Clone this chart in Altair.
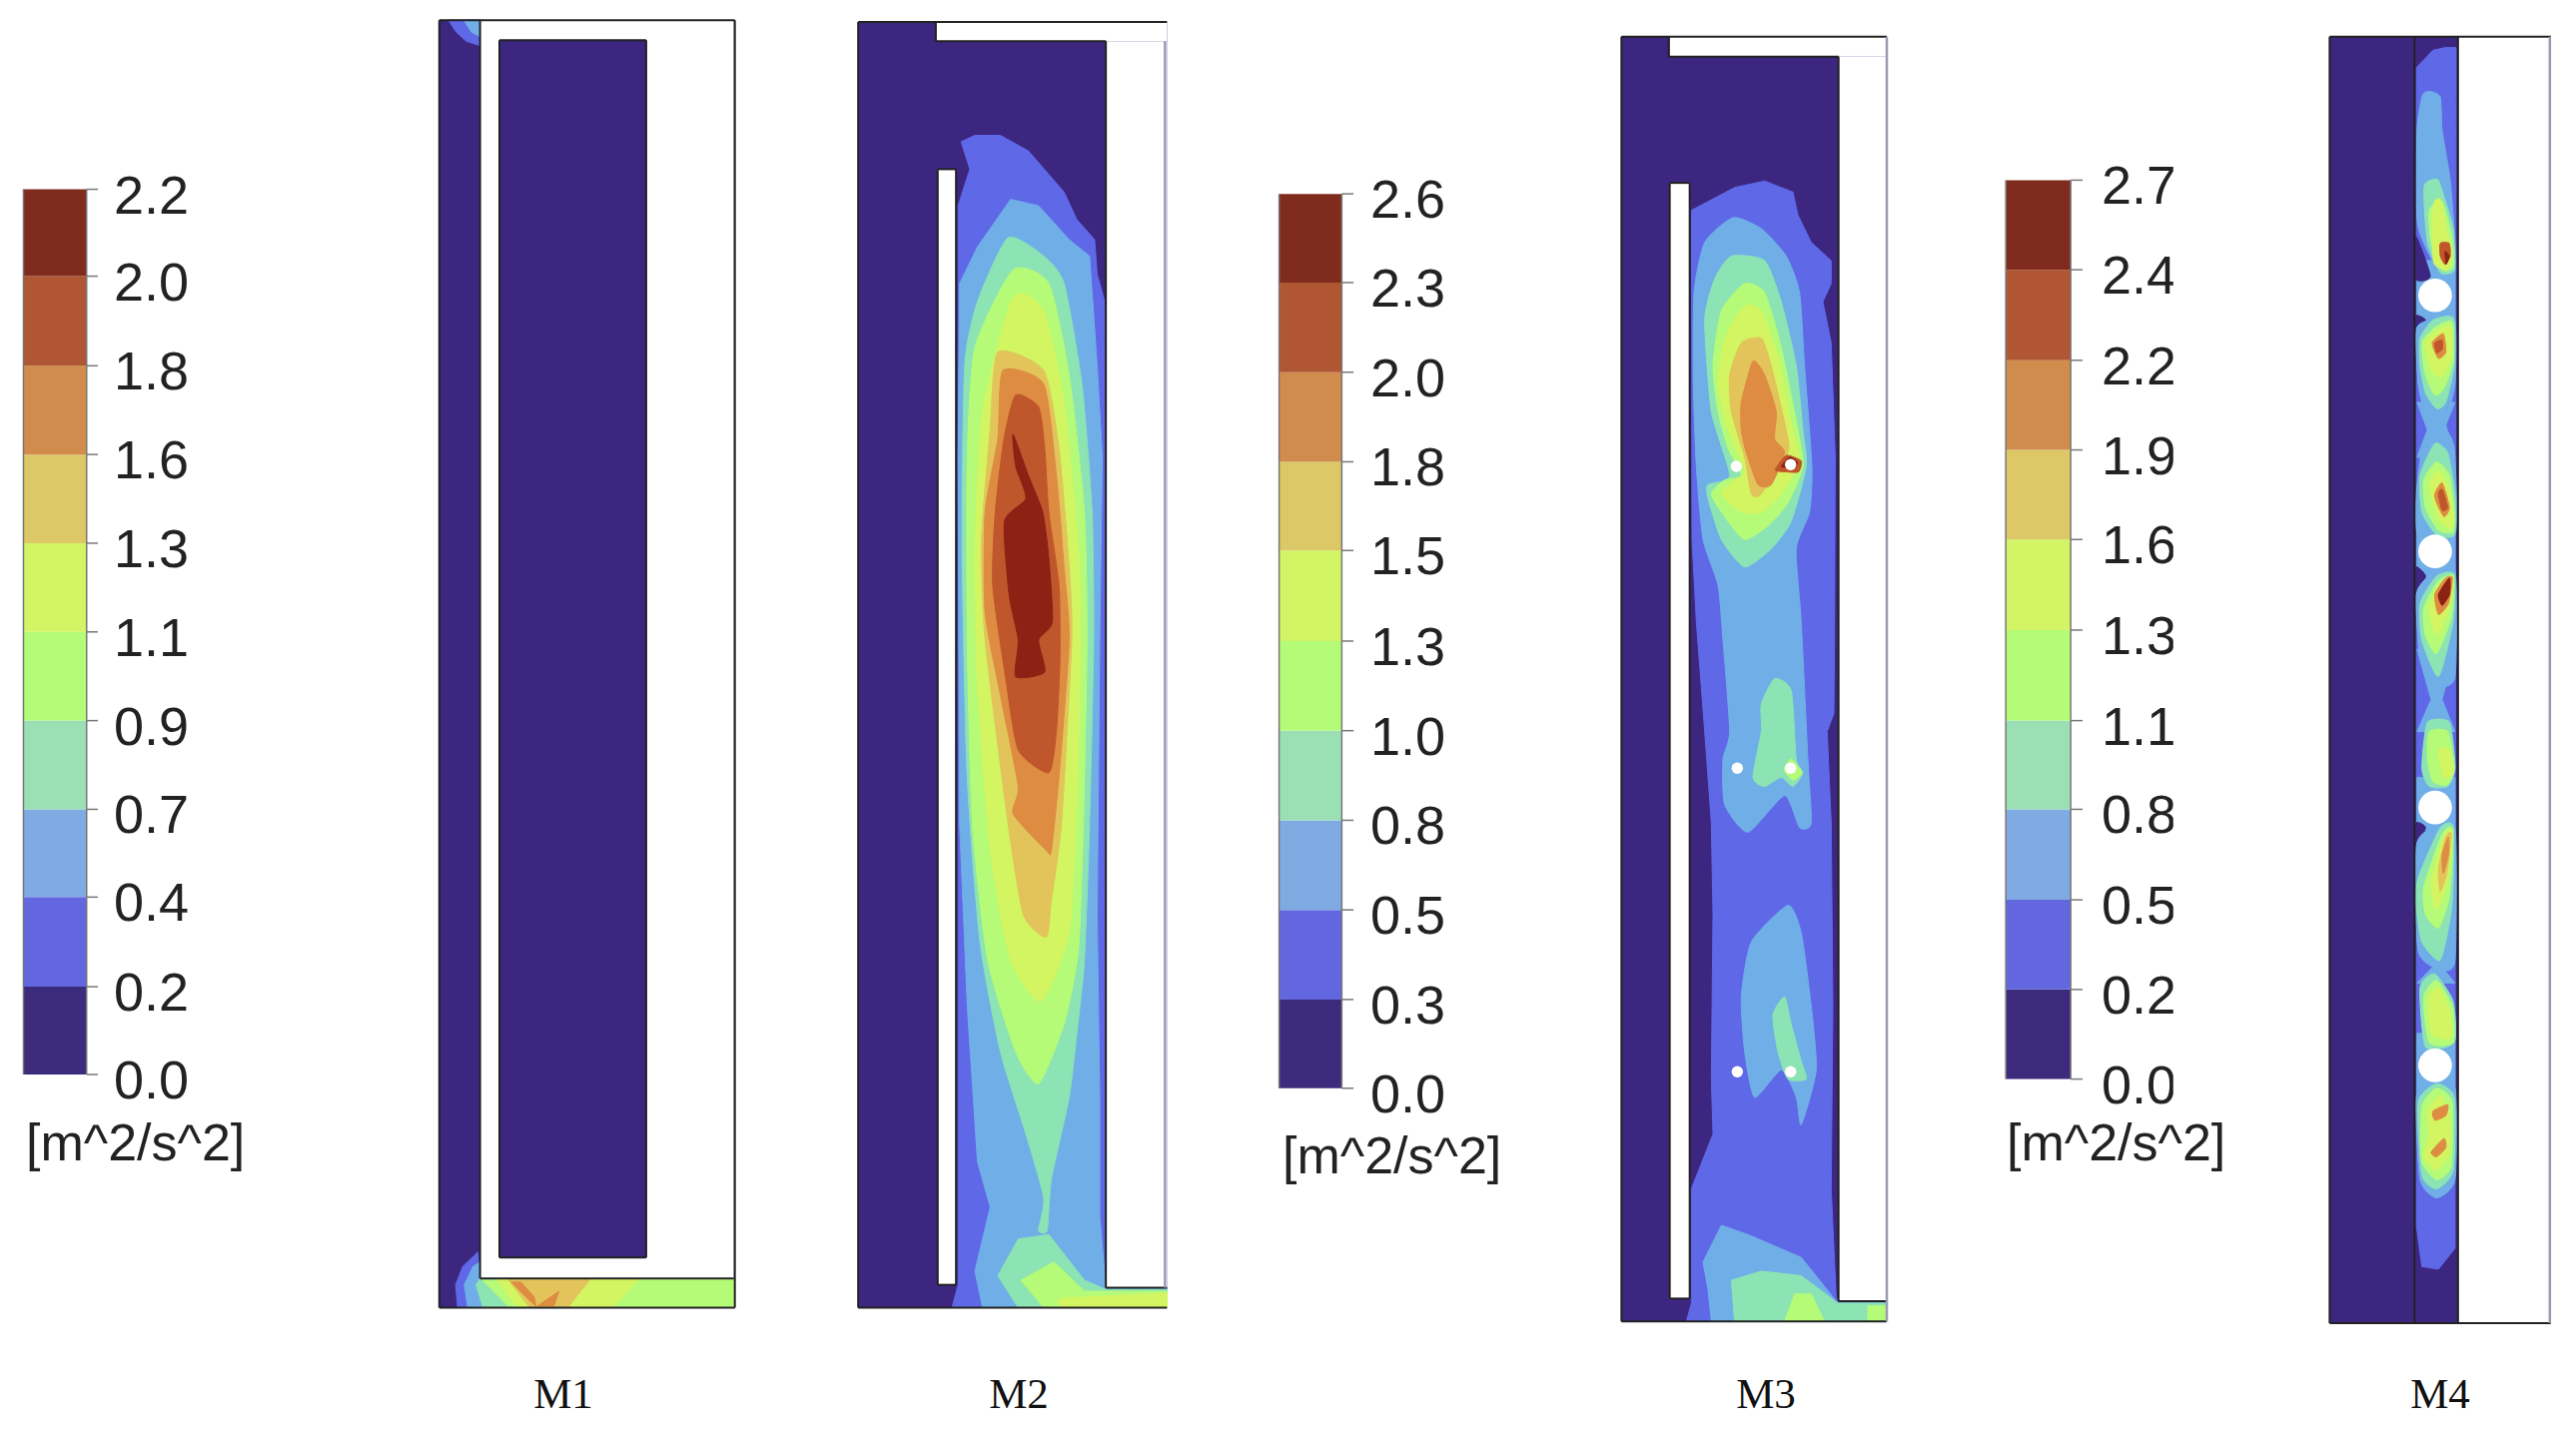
import altair as alt
import pandas as pd

W, H = 2555, 1410
FY = 1.092
CROPS = {"a": (0, 1.96), "b": (800, 1.96), "c": (1550, 3.0), "d": (2000, 2.708)}

DARK, BLUE, LBLUE, TEAL, GREEN, LIME, SAND, ORANGE, RUST, DEEP = (
    "#3d2680", "#5f68e6", "#70aee8", "#8ce3b4", "#b5fb78",
    "#d3f562", "#e2c45a", "#dd8c42", "#c0562c", "#8c2114")
BAND_COLORS = ["#3c2a7c", "#6367df", "#80abe2", "#9be0b5", "#b4fb78",
               "#d2f465", "#dcc866", "#d08c4d", "#b05632", "#7f2c1f"]

TICKS_1 = ["0.0", "0.2", "0.4", "0.7", "0.9", "1.1", "1.3", "1.6", "1.8", "2.0", "2.2"]
TICKS_2 = ["0.0", "0.3", "0.5", "0.8", "1.0", "1.3", "1.5", "1.8", "2.0", "2.3", "2.6"]
TICKS_3 = ["0.0", "0.2", "0.5", "0.8", "1.1", "1.3", "1.6", "1.9", "2.2", "2.4", "2.7"]
BOUNDS_1 = [1175, 1079, 981, 885, 788, 691, 594, 497, 400, 302, 207]
BOUNDS_2 = [1190, 1093, 995, 897, 799, 701, 602, 505, 407, 309, 212]
BOUNDS_3 = [1180, 1082, 984, 885, 788, 689, 590, 492, 394, 295, 197]

M1_CONTOURS = [
    (BLUE, [(880,22),(942,22),(942,50),(915,45),(895,35)]),
    (LBLUE, [(910,22),(942,22),(942,40),(925,35)]),
    (BLUE, [(898,1430),(894,1405),(908,1385),(938,1369),(942,1398),(1440,1398),(1440,1430)]),
    (LBLUE, [(918,1430),(911,1405),(928,1385),(942,1380),(950,1398),(1440,1398),(1440,1430)]),
    (TEAL, [(948,1430),(934,1405),(942,1398),(1440,1398),(1440,1430)]),
    (GREEN, [(1000,1430),(947,1400),(1440,1398),(1440,1430)]),
    (LIME, [(1016,1430),(973,1398),(1255,1398),(1202,1430)]),
    (SAND, [(1039,1430),(996,1398),(1159,1398),(1114,1430)]),
    (ORANGE, [(1003,1402),(1022,1402),(1048,1418),(1052,1428),(1039,1422)]),
    (ORANGE, [(1055,1428),(1097,1412),(1087,1428)]),
]
M2_CONTOURS = [
    (BLUE, [(345,148),(395,148),(450,165),(520,210),(545,240),(580,262),(585,300),(600,330),(602,1408),(722,1408),(722,1430),(300,1430),(312,1405),(312,225),(335,185),(318,155)]),
    (LBLUE, [(415,218),(470,225),(530,262),(570,280),(585,400),(595,500),(590,700),(585,1000),(590,1200),(590,1330),(600,1395),(602,1408),(722,1408),(722,1430),(360,1430),(345,1390),(375,1320),(350,1270),(330,1100),(315,900),(312,500),(315,310),(350,270)]),
    (TEAL, [(410,260),(480,280),(520,310),(555,420),(575,560),(578,700),(570,900),(560,1050),(545,1130),(530,1200),(495,1290),(487,1345),(470,1345),(480,1310),(445,1240),(395,1150),(355,1030),(330,850),(320,600),(325,400),(350,330)]),
    (TEAL, [(390,1395),(430,1355),(490,1350),(560,1400),(602,1410),(722,1410),(722,1430),(430,1430)]),
    (GREEN, [(420,295),(490,310),(530,410),(560,560),(565,700),(558,900),(548,1040),(520,1120),(470,1185),(425,1150),(370,1050),(340,900),(330,700),(330,500),(345,380)]),
    (GREEN, [(435,1400),(500,1380),(560,1412),(722,1412),(722,1430),(480,1430)]),
    (LIME, [(420,325),(480,340),(520,440),(548,600),(552,700),(545,880),(530,1020),(475,1095),(415,1050),(375,930),(350,750),(345,600),(360,450)]),
    (LIME, [(510,1420),(722,1414),(722,1430),(510,1430)]),
    (SAND, [(390,385),(480,405),(510,490),(530,620),(535,700),(515,900),(495,985),(485,1025),(440,1000),(410,900),(365,700),(358,590),(375,470)]),
    (ORANGE, [(400,405),(480,420),(505,520),(520,620),(530,700),(510,850),(495,930),(485,930),(420,890),(430,860),(395,760),(365,670),(365,560),(390,480)]),
    (RUST, [(425,432),(470,445),(482,490),(490,560),(510,640),(512,720),(505,800),(490,845),(430,820),(405,740),(380,640),(385,560),(402,480)]),
    (DEEP, [(420,475),(450,520),(478,560),(490,610),(497,680),(470,700),(482,735),(425,740),(430,700),(412,650),(403,570),(445,545),(425,510)]),
]
M3_CONTOURS = [
    (BLUE, [(430,230),(560,205),(650,198),(735,210),(750,235),(790,265),(850,285),(850,310),(825,330),(850,375),(862,500),(860,700),(858,780),(838,800),(850,900),(855,1100),(850,1300),(865,1420),(1015,1425),(1015,1445),(415,1445),(430,1425),(430,1300),(495,1240),(490,1180),(495,1000),(490,900),(470,800),(445,680),(432,590)]),
    (LBLUE, [(438,320),(470,265),(555,238),(640,250),(715,280),(755,320),(770,400),(792,510),(785,560),(745,600),(760,680),(780,830),(790,900),(755,905),(710,870),(600,910),(530,880),(525,830),(545,800),(525,700),(510,640),(465,590),(445,510),(436,420)]),
    (TEAL, [(470,350),(500,305),(550,280),(650,285),(700,330),(745,400),(765,470),(775,510),(730,570),(670,600),(590,620),(520,590),(480,545),(480,530),(545,520),(490,450)]),
    (GREEN, [(495,400),(520,340),(590,310),(650,320),(700,380),(750,470),(765,510),(720,550),(660,575),(590,590),(530,565),(490,540),(530,525),(580,520),(540,490),(510,450)]),
    (LIME, [(510,420),(530,370),(590,335),(640,340),(690,390),(735,470),(755,505),(700,540),(640,560),(580,560),(520,540),(560,525),(590,515),(540,470)]),
    (SAND, [(545,410),(580,375),(640,370),(670,400),(715,470),(720,495),(640,540),(610,540),(590,500),(550,450)]),
    (ORANGE, [(580,440),(615,395),(650,410),(685,450),(680,480),(710,495),(670,530),(630,530),(595,495),(580,470)]),
    (RUST, [(682,514),(715,498),(760,504),(752,516),(715,516)]),
    (DEEP, [(700,510),(725,500),(748,505),(742,511),(715,511)]),
    (TEAL, [(640,770),(680,742),(730,755),(745,830),(765,845),(735,860),(700,850),(650,860),(615,850),(640,800)]),
    (GREEN, [(708,842),(730,830),(762,845),(735,853)]),
    (LBLUE, [(580,1090),(610,1030),(720,990),(760,1020),(790,1100),(805,1170),(760,1230),(745,1200),(700,1170),(620,1200),(590,1150)]),
    (TEAL, [(675,1110),(710,1090),(730,1120),(760,1160),(775,1180),(720,1180),(690,1150)]),
    (LBLUE, [(465,1380),(520,1340),(600,1350),(760,1375),(870,1425),(1015,1425),(1015,1445),(490,1445),(480,1410)]),
    (TEAL, [(550,1400),(640,1390),(760,1395),(870,1425),(1015,1425),(1015,1445),(560,1445)]),
    (GREEN, [(710,1445),(740,1415),(790,1415),(830,1445)]),
    (GREEN, [(960,1428),(1015,1428),(1015,1445),(960,1445)]),
]
M4_LINKS = [
    [(1137,285),(1240,285),(1240,365),(1137,365)],
    [(1137,440),(1240,440),(1215,465),(1240,500),(1137,500),(1165,470)],
    [(1137,570),(1240,570),(1240,650),(1137,650)],
    [(1137,710),(1240,710),(1205,765),(1240,800),(1137,800),(1175,765)],
    [(1137,850),(1240,850),(1240,930),(1137,930)],
    [(1137,1030),(1240,1030),(1200,1055),(1240,1075),(1137,1075),(1185,1055)],
    [(1137,1130),(1240,1130),(1240,1210),(1137,1210)],
]
M4_CONTOURS = [
    (BLUE, [(1135,74),(1180,55),(1214,52),(1243,52),(1240,1365),(1195,1388),(1150,1385),(1135,1340)]),
    (LBLUE, [(1151,105),(1169,100),(1200,106),(1205,142),(1227,197),(1240,266),(1238,300),(1200,300),(1160,270),(1137,240),(1137,142)]),
    (LBLUE, M4_LINKS[0]), (LBLUE, M4_LINKS[1]), (LBLUE, M4_LINKS[2]), (LBLUE, M4_LINKS[3]),
    (LBLUE, M4_LINKS[4]), (LBLUE, M4_LINKS[5]), (LBLUE, M4_LINKS[6]),
    (DARK, [(1133,258),(1173,302),(1133,305)]),
    (DARK, [(1133,345),(1160,350),(1133,365)]),
    (DARK, [(1133,620),(1160,630),(1133,650)]),
    (DARK, [(1133,900),(1160,905),(1133,930)]),
    (TEAL, [(1156,204),(1192,196),(1210,215),(1235,250),(1238,295),(1200,298),(1165,265)]),
    (GREEN, [(1170,230),(1205,220),(1232,260),(1235,292),(1205,295),(1175,265)]),
    (LIME, [(1183,222),(1200,218),(1218,251),(1232,280),(1218,295),(1183,288),(1178,251)]),
    (RUST, [(1200,266),(1224,266),(1227,280),(1213,289),(1200,280)]),
    (DEEP, [(1213,275),(1224,280),(1216,289)]),
    (LBLUE, [(1135,360),(1170,350),(1238,345),(1240,420),(1215,465),(1238,490),(1240,585),(1140,585),(1135,540),(1150,490),(1165,470),(1140,420)]),
    (TEAL, [(1145,370),(1180,350),(1236,348),(1238,400),(1215,440),(1190,447),(1160,430),(1145,400)]),
    (GREEN, [(1150,375),(1185,358),(1232,352),(1235,395),(1210,425),(1185,432),(1160,410)]),
    (LIME, [(1160,375),(1190,362),(1228,357),(1230,390),(1205,412),(1175,405)]),
    (ORANGE, [(1178,375),(1208,365),(1215,385),(1195,392)]),
    (RUST, [(1185,375),(1205,372),(1205,382),(1190,386)]),
    (TEAL, [(1145,520),(1185,485),(1220,495),(1240,540),(1238,585),(1190,585),(1150,560)]),
    (GREEN, [(1155,525),(1190,505),(1225,520),(1238,560),(1235,582),(1195,580),(1160,555)]),
    (LIME, [(1170,530),(1195,515),(1225,535),(1236,565),(1228,578),(1195,568)]),
    (ORANGE, [(1185,540),(1205,528),(1225,555),(1210,565),(1190,550)]),
    (RUST, [(1195,540),(1205,535),(1220,555),(1205,558)]),
    (LBLUE, [(1135,650),(1170,630),(1240,625),(1240,740),(1190,750),(1145,720)]),
    (TEAL, [(1145,660),(1190,630),(1238,628),(1235,680),(1195,740),(1150,700)]),
    (GREEN, [(1155,665),(1195,635),(1236,630),(1230,675),(1190,715),(1160,695)]),
    (LIME, [(1170,665),(1195,640),(1235,632),(1225,665),(1190,695)]),
    (ORANGE, [(1185,650),(1215,632),(1233,632),(1222,660),(1195,672)]),
    (DEEP, [(1195,650),(1225,632),(1225,650),(1205,662)]),
    (TEAL, [(1165,790),(1225,790),(1240,840),(1220,860),(1170,860),(1150,840)]),
    (GREEN, [(1170,800),(1220,800),(1238,840),(1220,858),(1180,855),(1165,830)]),
    (LIME, [(1195,820),(1225,820),(1235,845),(1210,850)]),
    (LBLUE, [(1135,925),(1180,905),(1240,905),(1240,1050),(1200,1060),(1140,1040)]),
    (TEAL, [(1140,960),(1200,905),(1236,905),(1232,990),(1200,1050),(1150,1030),(1135,990)]),
    (GREEN, [(1155,970),(1205,912),(1234,908),(1225,980),(1195,1015),(1160,1000)]),
    (LIME, [(1175,965),(1210,915),(1232,908),(1222,960),(1190,995)]),
    (SAND, [(1195,950),(1215,915),(1230,912),(1218,955),(1200,975)]),
    (ORANGE, [(1205,935),(1222,915),(1222,935),(1208,955)]),
    (TEAL, [(1145,1080),(1185,1065),(1235,1095),(1238,1140),(1160,1145)]),
    (GREEN, [(1155,1090),(1190,1072),(1232,1100),(1235,1140),(1170,1140)]),
    (LIME, [(1170,1090),(1195,1080),(1225,1105),(1228,1135),(1175,1130)]),
    (LBLUE, [(1135,1200),(1180,1185),(1240,1190),(1240,1290),(1190,1310),(1145,1290)]),
    (TEAL, [(1140,1205),(1190,1185),(1238,1200),(1235,1280),(1190,1300),(1150,1285)]),
    (GREEN, [(1150,1210),(1190,1190),(1232,1205),(1230,1275),(1190,1290),(1150,1270)]),
    (LIME, [(1165,1215),(1200,1198),(1225,1220),(1225,1260),(1190,1280),(1155,1265),(1170,1240)]),
    (ORANGE, [(1180,1215),(1220,1208),(1215,1220),(1185,1225)]),
    (ORANGE, [(1175,1260),(1210,1245),(1215,1255),(1190,1265)]),
]

PANELS = [("a", 862, 1442, 22, 1430), ("b", 116, 722, 24, 1430),
          ("c", 220, 1017, 40, 1445), ("d", 900, 1500, 40, 1447)]
WHITES = [("a", 942, 1440, 22, 1398), ("b", 270, 722, 24, 45), ("b", 602, 722, 45, 1408),
          ("b", 272, 308, 185, 1405), ("c", 365, 1015, 40, 62), ("c", 872, 1015, 62, 1423),
          ("c", 365, 425, 200, 1420), ("d", 1248, 1497, 40, 1447)]
INNER = [("a", 980, 1268, 44, 1375)]
SEGMENTS = [
    ("a",862,22,1442,22),("a",862,22,862,1430),("a",862,1430,1442,1430),("a",1442,22,1442,1430),
    ("a",942,22,942,1398),("a",942,1398,1440,1398),
    ("a",980,44,1268,44),("a",980,44,980,1375),("a",1268,44,1268,1375),("a",980,1375,1268,1375),
    ("b",116,24,722,24),("b",116,24,116,1430),("b",116,1430,722,1430),("b",268,24,268,45),
    ("b",268,45,602,45),("b",602,45,602,1408),("b",602,1408,722,1408),
    ("b",272,185,308,185),("b",272,185,272,1405),("b",308,185,308,1405),("b",272,1405,308,1405),
    ("c",220,40,1017,40),("c",220,40,220,1445),("c",220,1445,1017,1445),
    ("c",362,40,362,62),("c",362,62,872,62),("c",872,62,872,1423),("c",872,1423,1020,1423),
    ("c",365,200,425,200),("c",365,200,365,1420),("c",425,200,425,1420),("c",365,1420,425,1420),
    ("d",900,40,1500,40),("d",900,40,900,1447),("d",900,1447,1500,1447),
    ("d",1130,40,1130,1447),("d",1248,40,1248,1447),
]
PALE_SEGMENTS = [("b",718,45,718,1408),("c",1017,40,1017,1445),("d",1497,40,1497,1447)]
HOLES_SMALL = [("c",565,510),("c",728,508),("c",568,840),("c",728,840),("c",568,1172),("c",728,1172)]
HOLES_BIG = [("d",1186,323),("d",1186,603),("d",1186,883),("d",1186,1165)]

PANEL_LABELS = [("M1", 564), ("M2", 1020), ("M3", 1768), ("M4", 2443)]
UNIT = "[m^2/s^2]"
UNIT_SPOTS = [(26, 1146), (1284, 1159), (2009, 1146)]


def px(crop, x):
    off, k = CROPS[crop]
    return off + x / k


def py(y):
    return y / FY


X = alt.X("x:Q", scale=alt.Scale(domain=[8, 8 + W]), axis=None)
Y = alt.Y("y:Q", scale=alt.Scale(domain=[8 + H, 8]), axis=None)
layers = []


def rects(rows, color):
    df = pd.DataFrame([dict(x=px(c, a), x2=px(c, b), y=py(d), y2=py(e)) for c, a, b, d, e in rows])
    layers.append(alt.Chart(df).mark_rect(color=color).encode(X, Y, x2="x2:Q", y2="y2:Q"))


def poly(crop, color, pts):
    linear = (crop == "a" or max(b for _, b in pts) >= 1400 or (crop == "d" and color == BLUE)
              or any(pts is link for link in M4_LINKS))
    df = pd.DataFrame([dict(x=px(crop, a), y=py(b), i=i) for i, (a, b) in enumerate(pts)])
    if linear:
        mark = alt.Chart(df).mark_line(fill=color, stroke=color, strokeWidth=1, interpolate="linear-closed")
    else:
        mark = alt.Chart(df).mark_line(fill=color, stroke=color, strokeWidth=1,
                                       interpolate="cardinal-closed", tension=0.4)
    layers.append(mark.encode(X, Y, order="i:Q"))


rects(PANELS, DARK)
for crop, contours in (("a", M1_CONTOURS), ("b", M2_CONTOURS), ("c", M3_CONTOURS), ("d", M4_CONTOURS)):
    for color, pts in contours:
        poly(crop, color, pts)
rects(WHITES, "#ffffff")
rects(INNER, DARK)

seg = pd.DataFrame([dict(x=px(c, a), y=py(b), x2=px(c, d), y2=py(e)) for c, a, b, d, e in SEGMENTS])
layers.append(alt.Chart(seg).mark_rule(color="#222222", strokeWidth=2).encode(X, Y, x2="x2:Q", y2="y2:Q"))
pale = pd.DataFrame([dict(x=px(c, a), y=py(b), x2=px(c, d), y2=py(e)) for c, a, b, d, e in PALE_SEGMENTS])
layers.append(alt.Chart(pale).mark_rule(color="#9a9ab4", strokeWidth=2.5).encode(X, Y, x2="x2:Q", y2="y2:Q"))

for holes, size in ((HOLES_SMALL, 130), (HOLES_BIG, 1134)):
    df = pd.DataFrame([dict(x=px(c, a), y=py(b)) for c, a, b in holes])
    layers.append(alt.Chart(df).mark_point(filled=True, shape="circle", size=size, color="#ffffff", opacity=1).encode(X, Y))


def colorbar(crop, x0, x1, xt, xr, bounds, ticks, dy):
    rows = []
    for i in range(10):
        rows.append(dict(x=px(crop, x0), x2=px(crop, x1), y=py(bounds[i]), y2=py(bounds[i + 1]), c=BAND_COLORS[i]))
    df = pd.DataFrame(rows)
    layers.append(alt.Chart(df).mark_rect().encode(X, Y, x2="x2:Q", y2="y2:Q",
                                                   color=alt.Color("c:N", scale=None)))
    t = pd.DataFrame([dict(x=px(crop, x1), x2=px(crop, xt), y=py(b)) for b in bounds])
    layers.append(alt.Chart(t).mark_rule(color="#777777", strokeWidth=1.5).encode(X, Y, x2="x2:Q"))
    e = pd.DataFrame([dict(x=px(crop, x), y=py(bounds[0]), y2=py(bounds[-1])) for x in (x0, x1)])
    layers.append(alt.Chart(e).mark_rule(color="#777777", strokeWidth=1.5).encode(X, Y, y2="y2:Q"))
    l = pd.DataFrame([dict(x=xr, y=py(b) + dy, t=s) for b, s in zip(bounds, ticks)])
    layers.append(alt.Chart(l).mark_text(font="Liberation Sans", fontSize=54, align="right",
                                         baseline="middle", color="#222222").encode(X, Y, text="t:N"))


colorbar("a", 46, 170, 192, 189, BOUNDS_1, TICKS_1, 8)
colorbar("b", 942, 1065, 1088, 1447, BOUNDS_2, TICKS_2, 8)
colorbar("d", 22, 198, 230, 2179, BOUNDS_3, TICKS_3, 8)

# the third colour bar's labels are cut off on the right in the source figure
rects([("d", 476, 560, 150, 1215)], "#ffffff")

u = pd.DataFrame([dict(x=a, y=b, t=UNIT) for a, b in UNIT_SPOTS])
layers.append(alt.Chart(u).mark_text(font="Liberation Sans", fontSize=52, align="left",
                                     baseline="middle", color="#222222").encode(X, Y, text="t:N"))
m = pd.DataFrame([dict(x=a, y=1397, t=s) for s, a in PANEL_LABELS])
layers.append(alt.Chart(m).mark_text(font="Liberation Serif", fontSize=43, align="center",
                                     baseline="middle", color="#111111").encode(X, Y, text="t:N"))

chart = alt.layer(*layers).properties(
    width=W, height=H, padding=0, autosize=alt.AutoSizeParams(type="none"), background="#ffffff"
).configure_view(stroke=None)

chart.save("out.html", embed_options={"renderer": "svg", "actions": False})
